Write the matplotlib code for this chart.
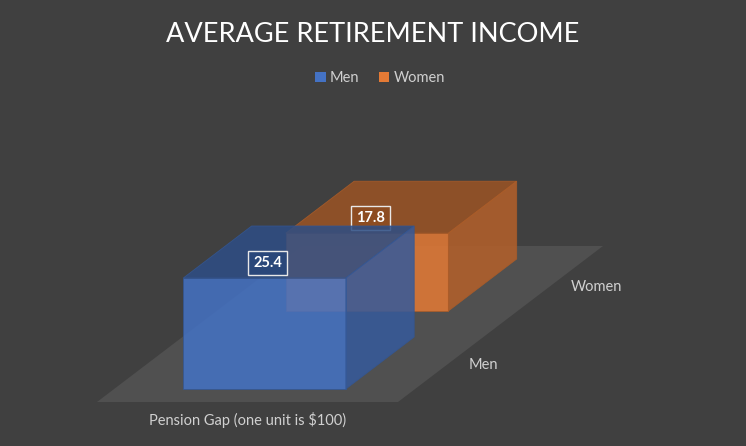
import numpy as np
import matplotlib
matplotlib.use("Agg")
import matplotlib.pyplot as plt
from matplotlib.patches import Polygon
from matplotlib.colors import to_rgb

# ---- data ----
title = "AVERAGE RETIREMENT INCOME"
category = "Pension Gap (one unit is $100)"
series = ["Men", "Women"]
values = [25.4, 17.8]
colors = ["#4472C4", "#E47A35"]

# ---- layout / style ----
W, H = 746, 446
BG = "#404040"
FLOOR = "#505050"
TEXT = "#D0D0D0"
FONT = ["Lato", "DejaVu Sans"]

# data-unit geometry of the oblique 3D view
PX_PER_X = 301.0          # pixels per category width (floor width)
PX_PER_V = 4.37           # pixels per value unit
ORIG = (97.0, 402.0)      # pixel location of floor front-left corner
DX = 102.5 / PX_PER_X     # depth shift per series slot (x units)
DY = 78.0 / PX_PER_V      # depth shift per series slot (value units)
BAR_W = 0.54
BAR_D0, BAR_D1 = 1 / 6, 5 / 6
ALPHA = 0.86
TOP_SHADE, SIDE_SHADE = 0.68, 0.79

plt.rcParams["font.family"] = FONT
fig = plt.figure(figsize=(W / 100, H / 100), dpi=100, facecolor=BG)
ax = fig.add_axes([0, 0, 1, 1])
ax.set_facecolor(BG)
ax.set_xlim(-ORIG[0] / PX_PER_X, (W - ORIG[0]) / PX_PER_X)
ax.set_ylim((ORIG[1] - H) / PX_PER_V, ORIG[1] / PX_PER_V)
ax.axis("off")

n = len(series)
# floor
floor = Polygon([(0, 0), (1, 0), (1 + n * DX, n * DY), (n * DX, n * DY)],
                closed=True, facecolor=FLOOR, edgecolor="none", zorder=1)
ax.add_patch(floor)


def shade(c, f):
    r, g, b = to_rgb(c)
    return (r * f, g * f, b * f)


handles = {}
order = list(range(n))[::-1]  # draw back series first
for k, s in enumerate(order):
    v = values[s]
    c = colors[s]
    z = 2 + k * 3
    ox0, oy0 = (s + BAR_D0) * DX, (s + BAR_D0) * DY
    ox1, oy1 = (s + BAR_D1) * DX, (s + BAR_D1) * DY
    xl, xr = 0.5 - BAR_W / 2, 0.5 + BAR_W / 2
    edge = shade(c, 0.75)
    bars = ax.bar(0.5 + ox0, v, width=BAR_W, bottom=oy0, color=c, alpha=ALPHA,
                  edgecolor=edge, linewidth=0.6, zorder=z, label=series[s])
    handles[s] = bars
    top = Polygon([(xl + ox0, v + oy0), (xr + ox0, v + oy0),
                   (xr + ox1, v + oy1), (xl + ox1, v + oy1)], closed=True,
                  facecolor=shade(c, TOP_SHADE), alpha=ALPHA, edgecolor=edge,
                  linewidth=0.6, zorder=z)
    side = Polygon([(xr + ox0, oy0), (xr + ox1, oy1),
                    (xr + ox1, v + oy1), (xr + ox0, v + oy0)], closed=True,
                   facecolor=shade(c, SIDE_SHADE), alpha=ALPHA, edgecolor=edge,
                   linewidth=0.6, zorder=z)
    ax.add_patch(top)
    ax.add_patch(side)
    # data label
    ax.text(0.5 + ox0 + 0.03 * DX, v + oy0 + 15 / PX_PER_V, f"{v:.1f}",
            ha="center", va="center", color="white", fontsize=10.5,
            fontweight="bold", zorder=z + 2,
            bbox=dict(boxstyle="square,pad=0.35", facecolor=shade(c, 0.62),
                      edgecolor="#E8E8E8", linewidth=1.0))

# depth (series) axis labels
for s in range(n):
    ax.text(1 + (s + 0.5) * DX + 19 / PX_PER_X, (s + 0.5) * DY - 2 / PX_PER_V,
            series[s], ha="left", va="center", color=TEXT, fontsize=10.5,
            zorder=20)

# category label
ax.text(0.5, -18 / PX_PER_V, category, ha="center", va="center",
        color=TEXT, fontsize=10.5, zorder=20)

# title
fig.text(0.5, 1 - 34 / H, title, ha="center", va="center", color="white",
         fontsize=19.5)

# legend
leg = ax.legend(handles=[handles[s] for s in range(n)], labels=series,
                loc="center", bbox_to_anchor=(380 / W, 1 - 78 / H),
                bbox_transform=fig.transFigure, ncol=n, frameon=False,
                fontsize=10.5, labelcolor=TEXT, handlelength=0.75,
                handleheight=0.75, handletextpad=0.3, columnspacing=1.3)
for p in leg.get_patches():
    p.set_alpha(1)
    p.set_edgecolor("none")

fig.savefig("out.png", dpi=100, facecolor=BG)
